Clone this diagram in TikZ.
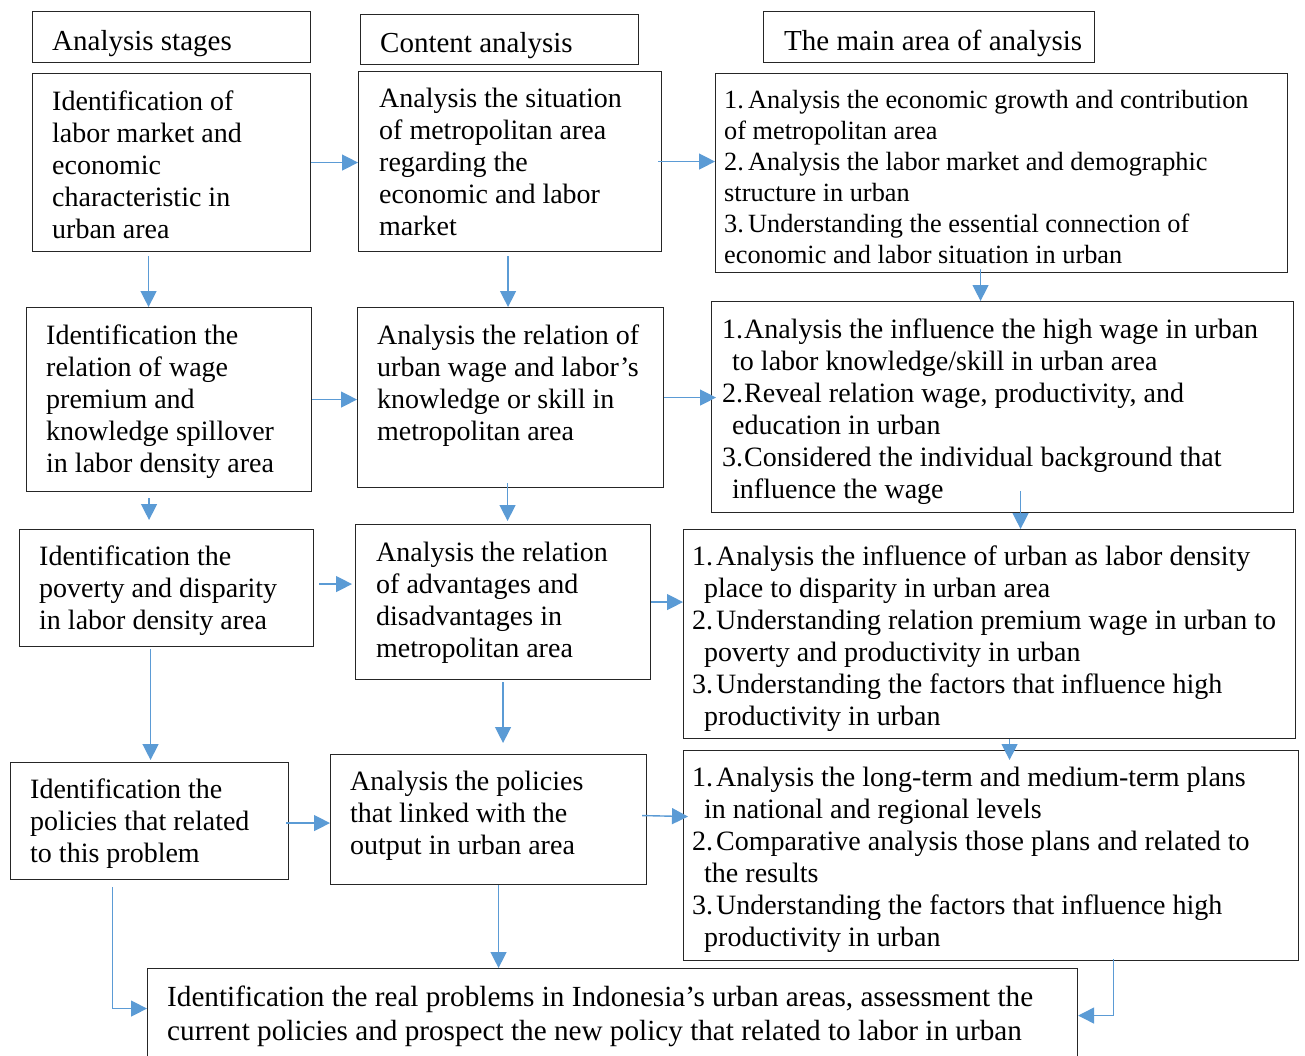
\documentclass[tikz,border=0pt]{standalone}
\usepackage{fontspec}
\setmainfont{Liberation Serif}
\usetikzlibrary{arrows.meta}
\definecolor{linkblue}{HTML}{5B9BD5}
\definecolor{framegray}{HTML}{262626}
% several lines of text, first baseline on the anchor
\newcommand{\rows}[1]{\begin{tabular}[t]{@{}l@{}}#1\end{tabular}}
% list number in a fixed-width slot
\newcommand{\nr}[2][22pt]{\makebox[#1][l]{#2}}
\begin{document}
\begin{tikzpicture}[x=1pt,y=-1pt,
  box/.style={draw=framegray, line width=1.1pt, anchor=north west, inner sep=0pt},
  txt/.style={anchor=base west, inner sep=0pt, font=\fontsize{28}{32}\selectfont},
  head/.style={txt, font=\fontsize{29}{32}\selectfont},
  lst/.style={txt, font=\fontsize{28}{32}\selectfont},
  link/.style={draw=linkblue, line width=1.4pt, -{Triangle[length=16pt,width=16pt]}}]

\fill[white] (0,0) rectangle (1305,1055);
\useasboundingbox (0,0) rectangle (1305,1055);

% column headings
\node[box, minimum width=278pt, minimum height=51pt] (h1) at (32,11) {};
\node[box, minimum width=278pt, minimum height=50pt] (h2) at (360,14) {};
\node[box, minimum width=331pt, minimum height=51pt] (h3) at (763,11) {};
\node[head] at (52,50) {Analysis stages};
\node[head] at (380,52) {Content analysis};
\node[head] at (784,50) {The main area of analysis};

% row 1
\node[box, minimum width=278pt, minimum height=178pt] (a1) at (32,73) {};
\node[box, minimum width=303pt, minimum height=180pt] (b1) at (358,71) {};
\node[box, minimum width=572pt, minimum height=199pt] (c1) at (715,73) {};
\node[txt] at (52,110) {\rows{Identification of\\labor market and\\economic\\characteristic in\\urban area}};
\node[txt] at (379,107) {\rows{Analysis the situation\\of metropolitan area\\regarding the\\economic and labor\\market}};
\node[txt, font=\fontsize{26.3}{31}\selectfont] at (724,108) {\rows{\nr[24pt]{1.}Analysis the economic growth and contribution\\of metropolitan area\\\nr[24pt]{2.}Analysis the labor market and demographic\\structure in urban\\\nr[24pt]{3.}Understanding the essential connection of\\economic and labor situation in urban}};

% row 2
\node[box, minimum width=285pt, minimum height=184pt] (a2) at (26,307) {};
\node[box, minimum width=306pt, minimum height=180pt] (b2) at (357,307) {};
\node[box, minimum width=582pt, minimum height=211pt] (c2) at (711,301) {};
\node[txt] at (46,344) {\rows{Identification the\\relation of wage\\premium and\\knowledge spillover\\in labor density area}};
\node[txt] at (377,344) {\rows{Analysis the relation of\\urban wage and labor’s\\knowledge or skill in\\metropolitan area}};
\node[lst] at (722,338) {\rows{\nr{1.}Analysis the influence the high wage in urban\\\hspace*{10pt}to labor knowledge/skill in urban area\\\nr{2.}Reveal relation wage, productivity, and\\\hspace*{10pt}education in urban\\\nr{3.}Considered the individual background that\\\hspace*{10pt}influence the wage}};

% row 3
\node[box, minimum width=294pt, minimum height=117pt] (a3) at (19,529) {};
\node[box, minimum width=295pt, minimum height=155pt] (b3) at (355,524) {};
\node[box, minimum width=612pt, minimum height=209pt] (c3) at (683,529) {};
\node[txt] at (39,565) {\rows{Identification the\\poverty and disparity\\in labor density area}};
\node[txt] at (376,561) {\rows{Analysis the relation\\of advantages and\\disadvantages in\\metropolitan area}};
\node[lst] at (692,565) {\rows{\nr[24pt]{1.}Analysis the influence of urban as labor density\\\hspace*{12pt}place to disparity in urban area\\\nr[24pt]{2.}Understanding relation premium wage in urban to\\\hspace*{12pt}poverty and productivity in urban\\\nr[24pt]{3.}Understanding the factors that influence high\\\hspace*{12pt}productivity in urban}};

% row 4
\node[box, minimum width=278pt, minimum height=117pt] (a4) at (10,762) {};
\node[box, minimum width=316pt, minimum height=130pt] (b4) at (330,754) {};
\node[box, minimum width=615pt, minimum height=210pt] (c4) at (683,750) {};
\node[txt] at (30,798) {\rows{Identification the\\policies that related\\to this problem}};
\node[txt] at (350,790) {\rows{Analysis the policies\\that linked with the\\output in urban area}};
\node[lst] at (692,786) {\rows{\nr[24pt]{1.}Analysis the long-term and medium-term plans\\\hspace*{12pt}in national and regional levels\\\nr[24pt]{2.}Comparative analysis those plans and related to\\\hspace*{12pt}the results\\\nr[24pt]{3.}Understanding the factors that influence high\\\hspace*{12pt}productivity in urban}};

% closing box
\node[box, minimum width=930pt, minimum height=94pt] (d) at (147,968) {};
\node[txt, font=\fontsize{29.2}{34}\selectfont] at (167,1006) {\rows{Identification the real problems in Indonesia’s urban areas, assessment the\\current policies and prospect the new policy that related to labor in urban}};

% connectors, row 1
\draw[link] (a1.east) -- (a1.east -| b1.west);
\draw[link] ([xshift=-4pt]b1.east) -- (b1.east -| c1.west);
\draw[link] ([xshift=-23pt,yshift=-4pt]a1.south) -- ([xshift=-23pt]a1.south |- a2.north);
\draw[link] ([xshift=-2pt,yshift=-4pt]b1.south) -- ([xshift=-2pt]b1.south |- b2.north);
\draw[link] ([xshift=-21pt,yshift=4pt]c1.south) -- ([xshift=-21pt]c1.south |- c2.north);
% row 2
\draw[link] (a2.east) -- (a2.east -| b2.west);
\draw[link] (b2.east) -- ([xshift=5pt]b2.east -| c2.west);
\draw[link] ([xshift=-20pt,yshift=-6pt]a2.south) -- ([xshift=-20pt,yshift=9pt]a2.south |- a3.north);
\draw[link] ([xshift=-3pt,yshift=5pt]b2.south) -- ([xshift=-3pt,yshift=3pt]b2.south |- b3.north);
\draw[link] ([xshift=18pt,yshift=22pt]c2.south) -- ([xshift=18pt]c2.south |- c3.north);
% row 3
\draw[link] ([xshift=5pt,yshift=4pt]a3.east) -- ([xshift=-3pt,yshift=4pt]a3.east -| b3.west);
\draw[link] (b3.east) -- (b3.east -| c3.west);
\draw[link] ([xshift=-16pt,yshift=-2pt]a3.south) -- ([xshift=-16pt,yshift=2pt]a3.south |- a4.north);
\draw[link] ([yshift=-2pt]b3.south) -- ([yshift=11pt]b3.south |- b4.north);
\draw[link] ([xshift=20pt]c3.south) -- ([xshift=20pt,yshift=-10pt]c3.south |- c4.north);
% row 4
\draw[link] ([xshift=-3pt,yshift=-2pt]a4.east) -- ([yshift=-2pt]a4.east -| b4.west);
\draw[link] ([xshift=-5pt,yshift=4pt]b4.east) -- ([xshift=5pt,yshift=3pt]b4.east -| c4.west);
% into the closing box
\draw[link] ([xshift=-37pt,yshift=-7pt]a4.south) |- ([yshift=7pt]d.west);
\draw[link] ([xshift=10pt]b4.south) -- ([xshift=10pt]b4.south |- d.north);
\draw[link] ([xshift=122.5pt,yshift=2pt]c4.south) |- (d.east);
\end{tikzpicture}
\end{document}
